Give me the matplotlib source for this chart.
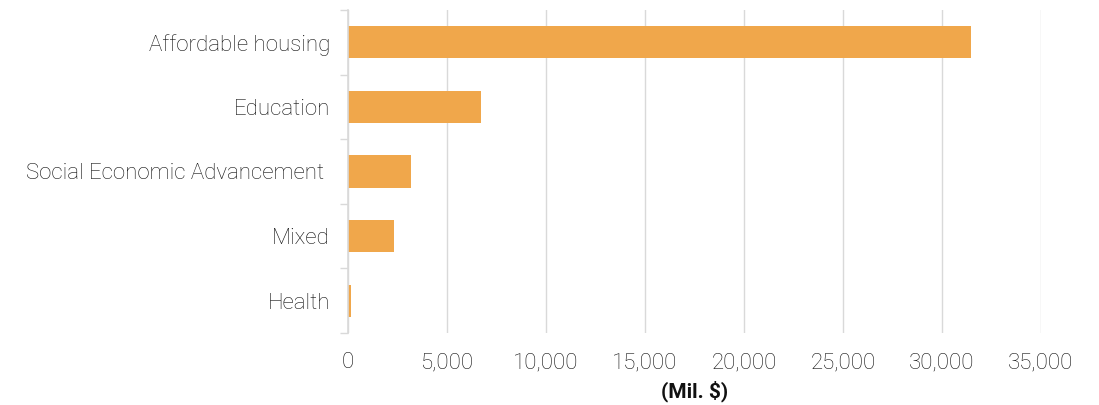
import matplotlib
matplotlib.use("Agg")
import matplotlib.pyplot as plt
from matplotlib.ticker import FuncFormatter, FixedLocator

# amounts by category, millions of dollars (top to bottom)
categories = ["Affordable housing", "Education", "Social Economic Advancement ",
              "Mixed", "Health"]
amounts = [31460, 6700, 3170, 2310, 150]
x_ticks = [0, 5000, 10000, 15000, 20000, 25000, 30000, 35000]

BAR = "#F0A74B"
GRID = "#D9D9D9"
TEXT = "#111111"

plt.rcParams["font.family"] = ["Roboto", "DejaVu Sans"]

fig = plt.figure(figsize=(10.99, 4.05), dpi=100)
ax = fig.add_axes([0.3167, 0.1778, 0.6305, 0.7975])

pos = list(range(len(categories)))
ax.barh(pos, amounts, height=0.5, color=BAR, zorder=3)
ax.set_ylim(len(categories) - 0.5, -0.5)
ax.set_xlim(0, 35000)

ax.set_yticks(pos)
ax.set_yticklabels(categories)
ax.yaxis.set_minor_locator(FixedLocator([p - 0.5 for p in pos] + [pos[-1] + 0.5]))
ax.tick_params(axis="y", which="major", length=0, pad=13, labelsize=16,
               labelcolor=TEXT)
ax.tick_params(axis="y", which="minor", length=6, width=1, color=GRID)

ax.set_xticks(x_ticks)
ax.xaxis.set_major_formatter(FuncFormatter(lambda v, _: f"{int(v):,}"))
ax.tick_params(axis="x", length=0, pad=14, labelsize=16, labelcolor=TEXT)
for lbl in ax.get_xticklabels() + ax.get_yticklabels():
    lbl.set_fontweight("light")

ax.grid(axis="x", color=GRID, linewidth=1, zorder=0)
for side in ("top", "right", "bottom"):
    ax.spines[side].set_visible(False)
ax.spines["left"].set_color(GRID)
ax.spines["left"].set_linewidth(1.2)
ax.spines["left"].set_zorder(4)

ax.set_xlabel("(Mil. $)", fontsize=15, fontweight="bold", color="#111111",
              labelpad=5)

fig.savefig("out.png", dpi=100, facecolor="white")
